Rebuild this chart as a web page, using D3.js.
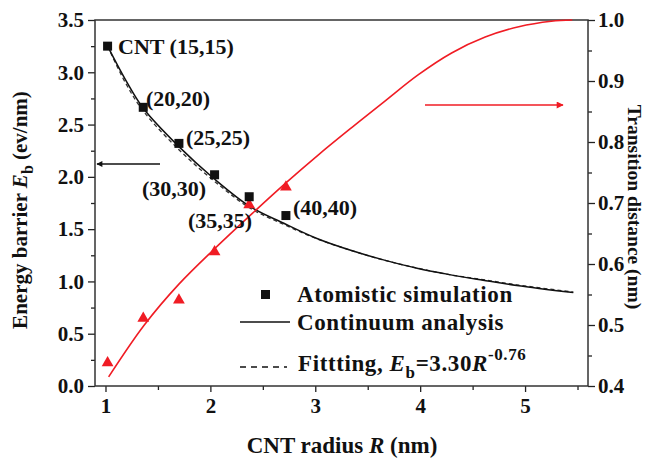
<!DOCTYPE html>
<html>
<head>
<meta charset="utf-8">
<script src="https://cdn.jsdelivr.net/npm/d3@7/dist/d3.min.js"></script>
<style>
  html, body { margin: 0; padding: 0; background: #fff; }
  svg { display: block; }
  text { font-family: "Liberation Serif", "Times New Roman", serif; font-weight: bold; fill: #111; }
</style>
</head>
<body>
<svg id="chart" width="648" height="459"></svg>
<script>
// ---- Data ----
const radius = [1.02, 1.36, 1.70, 2.04, 2.37, 2.72];
const pointLabels = ["CNT (15,15)", "(20,20)", "(25,25)", "(30,30)", "(35,35)", "(40,40)"];
const atomisticEb = [3.25, 2.665, 2.32, 2.02, 1.81, 1.63];
const atomisticDist = [0.438, 0.511, 0.541, 0.620, 0.697, 0.726];

const curveR = [1.02, 1.19, 1.36, 1.70, 2.03, 2.38, 2.70, 3.01, 3.33, 3.65, 3.97, 4.28, 4.60, 4.92, 5.46];
const continuumEb = [3.25, 2.93, 2.656, 2.289, 1.987, 1.715, 1.556, 1.413, 1.30, 1.206, 1.126, 1.065, 1.012, 0.962, 0.893];
const fitEb = [3.25, 2.90, 2.63, 2.26, 1.965, 1.70, 1.545, 1.41, 1.30, 1.205, 1.128, 1.065, 1.017, 0.968, 0.898];

const distR = [1.03, 1.37, 1.70, 2.04, 2.40, 2.72, 3.03, 3.35, 3.67, 3.98, 4.30, 4.62, 4.94, 5.25, 5.45];
const distCurve = [0.415, 0.500, 0.567, 0.625, 0.683, 0.733, 0.779, 0.824, 0.868, 0.910, 0.946, 0.972, 0.989, 0.998, 1.000];

const xTicks = [1, 2, 3, 4, 5];
const xMinor = [1.5, 2.5, 3.5, 4.5, 5.5];
const yLeftTicks = [0, 0.5, 1.0, 1.5, 2.0, 2.5, 3.0, 3.5];
const yLeftMinor = [0.25, 0.75, 1.25, 1.75, 2.25, 2.75, 3.25];
const yRightTicks = [0.4, 0.5, 0.6, 0.7, 0.8, 0.9, 1.0];
const yRightMinor = [0.45, 0.55, 0.65, 0.75, 0.85, 0.95];

// ---- Layout ----
const svg = d3.select("#chart");
const L = 95, R = 588, T = 20, B = 386;
const RED = "#f01c24";

const x = d3.scaleLinear().domain([0.9, 5.6]).range([L, R]);
const yL = d3.scaleLinear().domain([0, 3.5]).range([B, T]);
const yR = d3.scaleLinear().domain([0.4, 1.0]).range([B, T]);

const fmt = d3.format(".1f");

// Axes
function styleAxis(g) {
  g.selectAll(".domain").remove();
  g.selectAll("line").attr("stroke", "#222").attr("stroke-width", 1.3);
  g.selectAll("text").style("font-size", "21px").attr("fill", "#111");
}
svg.append("g").attr("transform", `translate(0,${B})`)
  .call(d3.axisBottom(x).tickValues(xTicks).tickFormat(d3.format("d")).tickSize(6).tickPadding(6))
  .call(styleAxis);
svg.append("g").attr("transform", `translate(0,${B})`)
  .call(d3.axisBottom(x).tickValues(xMinor).tickFormat("").tickSize(4))
  .call(styleAxis);
svg.append("g").attr("transform", `translate(${L},0)`)
  .call(d3.axisLeft(yL).tickValues(yLeftTicks).tickFormat(fmt).tickSize(7).tickPadding(4))
  .call(styleAxis);
svg.append("g").attr("transform", `translate(${L},0)`)
  .call(d3.axisLeft(yL).tickValues(yLeftMinor).tickFormat("").tickSize(4))
  .call(styleAxis);
svg.append("g").attr("transform", `translate(${R},0)`)
  .call(d3.axisRight(yR).tickValues(yRightTicks).tickFormat(fmt).tickSize(7).tickPadding(3))
  .call(styleAxis);
svg.append("g").attr("transform", `translate(${R},0)`)
  .call(d3.axisRight(yR).tickValues(yRightMinor).tickFormat("").tickSize(4))
  .call(styleAxis);

// Frame
svg.append("rect").attr("x", L).attr("y", T).attr("width", R - L).attr("height", B - T)
  .attr("fill", "none").attr("stroke", "#333").attr("stroke-width", 1.5);

// Curves
const lineL = d3.line().x(d => x(d[0])).y(d => yL(d[1])).curve(d3.curveCatmullRom.alpha(0.5));
const lineR = d3.line().x(d => x(d[0])).y(d => yR(d[1])).curve(d3.curveCatmullRom.alpha(0.5));

svg.append("path").datum(curveR.map((r, i) => [r, fitEb[i]]))
  .attr("d", lineL).attr("fill", "none").attr("stroke", "#333").attr("stroke-width", 1.3)
  .attr("stroke-dasharray", "4,3");
svg.append("path").datum(curveR.map((r, i) => [r, continuumEb[i]]))
  .attr("d", lineL).attr("fill", "none").attr("stroke", "#111").attr("stroke-width", 1.5);
svg.append("path").datum(distR.map((r, i) => [r, distCurve[i]]))
  .attr("d", lineR).attr("fill", "none").attr("stroke", RED).attr("stroke-width", 1.6);

// Markers
svg.append("g").selectAll("path").data(radius).join("path")
  .attr("transform", (d, i) => `translate(${x(d)},${yR(atomisticDist[i])})`)
  .attr("d", d3.symbol(d3.symbolTriangle, 60))
  .attr("fill", RED);
svg.append("g").selectAll("rect").data(radius).join("rect")
  .attr("x", d => x(d) - 4.5).attr("y", (d, i) => yL(atomisticEb[i]) - 4.5)
  .attr("width", 9).attr("height", 9).attr("fill", "#111");

// Point labels
const labelPos = [[118, 46], [146, 98], [186, 137], [142, 188], [188, 220], [293, 207]];
svg.append("g").selectAll("text").data(pointLabels).join("text")
  .attr("x", (d, i) => labelPos[i][0]).attr("y", (d, i) => labelPos[i][1])
  .attr("dy", "0.35em").style("font-size", "22px").text(d => d);

// Arrows
svg.append("defs").html(`
  <marker id="ahBlack" viewBox="0 0 10 10" refX="9" refY="5" markerWidth="9" markerHeight="6" markerUnits="userSpaceOnUse" orient="auto">
    <path d="M0,0 L10,5 L0,10 Z" fill="#111"/></marker>
  <marker id="ahRed" viewBox="0 0 10 10" refX="9" refY="5" markerWidth="12" markerHeight="7" markerUnits="userSpaceOnUse" orient="auto">
    <path d="M0,0 L10,5 L0,10 Z" fill="${RED}"/></marker>`);
svg.append("line").attr("x1", 160).attr("y1", 164).attr("x2", 97).attr("y2", 164)
  .attr("stroke", "#111").attr("stroke-width", 1.5).attr("marker-end", "url(#ahBlack)");
svg.append("line").attr("x1", 425).attr("y1", 105).attr("x2", 563).attr("y2", 105)
  .attr("stroke", RED).attr("stroke-width", 1.6).attr("marker-end", "url(#ahRed)");

// Legend
const lg = svg.append("g").style("letter-spacing", "0.6px");
lg.append("rect").attr("x", 261).attr("y", 290).attr("width", 9).attr("height", 9).attr("fill", "#111");
lg.append("text").attr("x", 297).attr("y", 302).style("font-size", "23px").text("Atomistic simulation");
lg.append("line").attr("x1", 240).attr("x2", 290).attr("y1", 322).attr("y2", 322)
  .attr("stroke", "#111").attr("stroke-width", 1.5);
lg.append("text").attr("x", 297).attr("y", 330).style("font-size", "23px").text("Continuum analysis");
lg.append("line").attr("x1", 240).attr("x2", 287).attr("y1", 367).attr("y2", 367)
  .attr("stroke", "#111").attr("stroke-width", 1.4).attr("stroke-dasharray", "6,5");
const ft = lg.append("text").attr("x", 298).attr("y", 371).style("font-size", "23px");
ft.append("tspan").text("Fittting,  ");
ft.append("tspan").attr("font-style", "italic").text("E");
ft.append("tspan").attr("dy", 7).style("font-size", "17px").text("b");
ft.append("tspan").attr("dy", -7).text("=3.30");
ft.append("tspan").attr("font-style", "italic").text("R");
ft.append("tspan").attr("dy", -11).style("font-size", "17px").text("-0.76");

// Axis titles
const xt = svg.append("text").attr("x", 342).attr("y", 453).attr("text-anchor", "middle").style("font-size", "23px");
xt.append("tspan").text("CNT radius ");
xt.append("tspan").attr("font-style", "italic").text("R");
xt.append("tspan").text(" (nm)");

const ylt = svg.append("text").attr("transform", "translate(27,210) rotate(-90)")
  .attr("text-anchor", "middle").style("font-size", "21px");
ylt.append("tspan").text("Energy barrier ");
ylt.append("tspan").attr("font-style", "italic").text("E");
ylt.append("tspan").attr("dy", 6).style("font-size", "16px").text("b");
ylt.append("tspan").attr("dy", -6).text(" (ev/nm)");

svg.append("text").attr("transform", "translate(628,207) rotate(90)")
  .attr("text-anchor", "middle").style("font-size", "19.5px").text("Transition distance (nm)");
</script>
</body>
</html>
